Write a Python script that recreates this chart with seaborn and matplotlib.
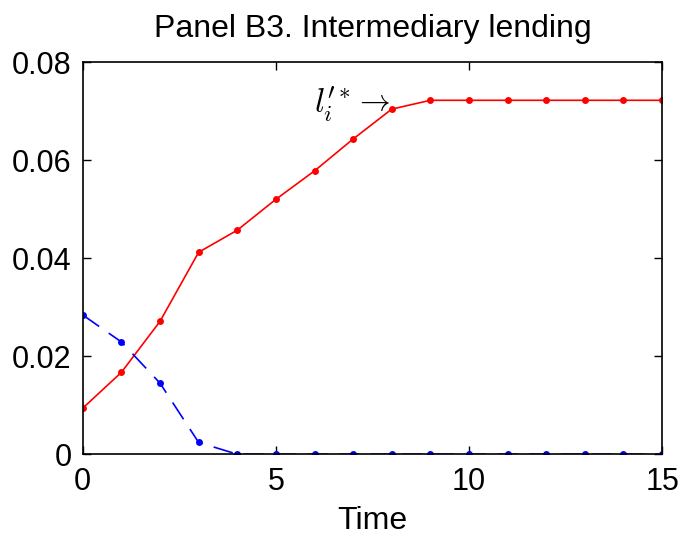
import matplotlib
matplotlib.use("Agg")
import matplotlib.pyplot as plt
import seaborn as sns
import pandas as pd

time = list(range(16))
lending_red = [0.0094, 0.0167, 0.0271, 0.0412, 0.0457, 0.0520, 0.0578, 0.0643,
               0.0704, 0.0722, 0.0722, 0.0722, 0.0722, 0.0722, 0.0722, 0.0722]
lending_blue = [0.0284, 0.0229, 0.0145, 0.0024, 0.0, 0.0, 0.0, 0.0,
                0.0, 0.0, 0.0, 0.0, 0.0, 0.0, 0.0, 0.0]
xticks = [0, 5, 10, 15]
yticks = [0, 0.02, 0.04, 0.06, 0.08]
ytick_labels = ["0", "0.02", "0.04", "0.06", "0.08"]

sns.set_theme(style="white")
plt.rcParams['font.family'] = ['Liberation Sans', 'DejaVu Sans']
plt.rcParams['mathtext.fontset'] = 'cm'
plt.rcParams['text.color'] = 'black'
plt.rcParams['axes.labelcolor'] = 'black'

fig = plt.figure(figsize=(6.84, 5.35), dpi=100)
ax = fig.add_axes([0.121, 0.151, 0.847, 0.733])

df_r = pd.DataFrame({"Time": time, "v": lending_red})
df_b = pd.DataFrame({"Time": time, "v": lending_blue})
sns.lineplot(data=df_r, x="Time", y="v", ax=ax, color="#ff0000", marker="o",
             markersize=5, markeredgewidth=0, linewidth=1.2)
sns.lineplot(data=df_b, x="Time", y="v", ax=ax, color="#0000ff", marker="o",
             markersize=5, markeredgewidth=0, linewidth=1.2)
ax.lines[-1].set_dashes([12, 7])

ax.set_xlim(0, 15)
ax.set_ylim(0, 0.08)
ax.set_xticks(xticks)
ax.set_xticklabels([str(t) for t in xticks])
ax.set_yticks(yticks)
ax.set_yticklabels(ytick_labels)
ax.tick_params(direction="in", length=6, width=1, labelsize=22, top=True, right=True,
               bottom=True, left=True, colors="black", pad=8)
ax.tick_params(axis="x", pad=9)
for s in ax.spines.values():
    s.set_color("black")
    s.set_linewidth(1.2)
ax.set_xlabel("Time", fontsize=23, labelpad=7)
ax.set_ylabel("")
ax.set_title("Panel B3. Intermediary lending", fontsize=23, pad=18)
ax.text(5.98, 0.0714, r"$l_i'^{*}$", fontsize=24, ha="left", va="center")
ax.text(7.02, 0.0718, r"$\rightarrow$", fontsize=22, ha="left", va="center")

fig.savefig("out.png", dpi=100, facecolor="white")
